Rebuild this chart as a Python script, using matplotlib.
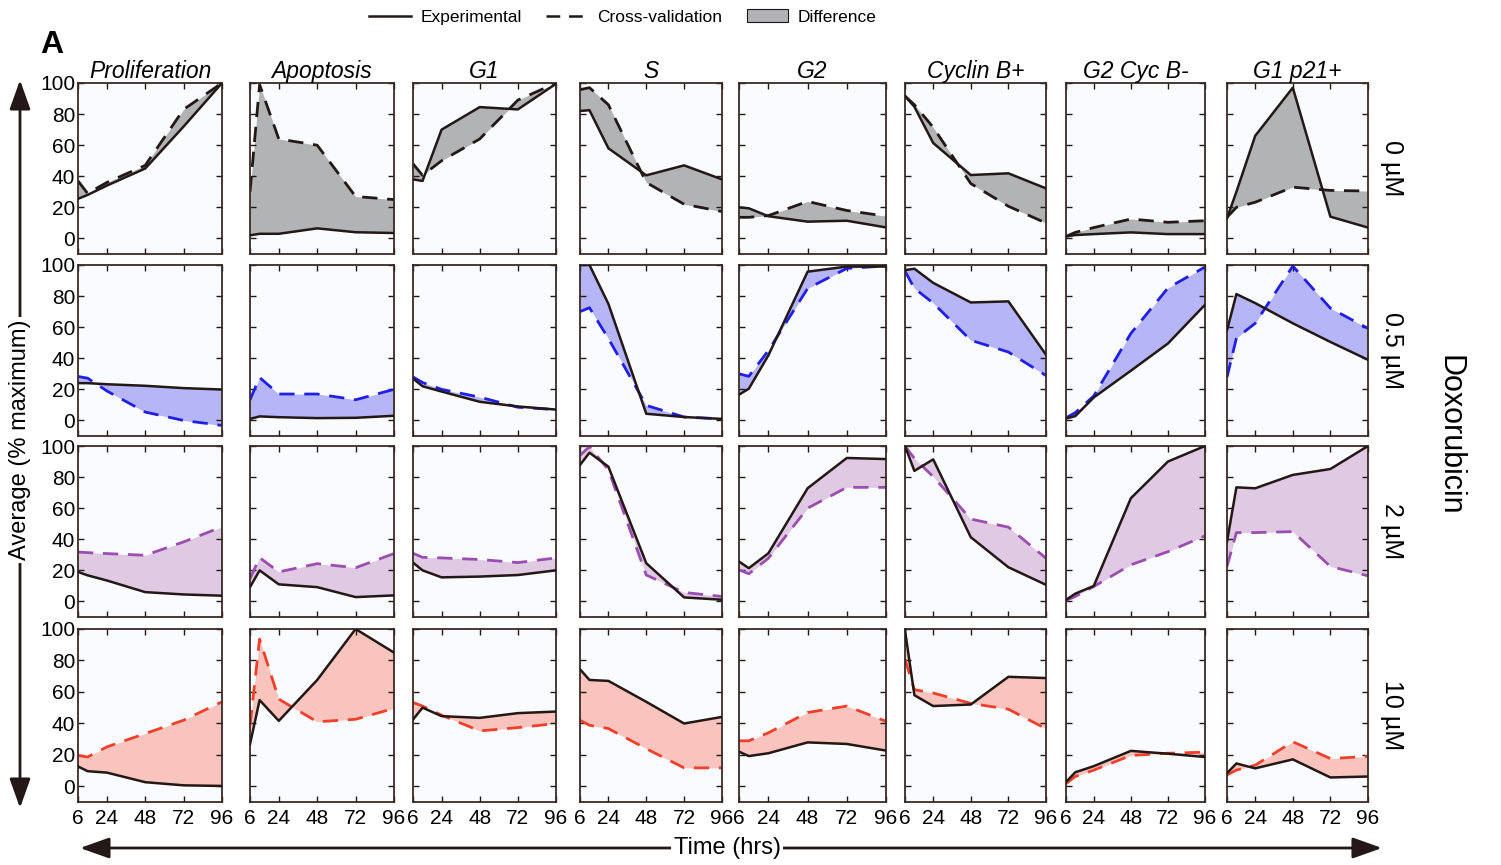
import numpy as np
import matplotlib
matplotlib.use("Agg")
import matplotlib.pyplot as plt
from matplotlib.lines import Line2D
from matplotlib.patches import Patch, FancyArrowPatch

plt.rcParams['font.family'] = ['Liberation Sans', 'DejaVu Sans']

# sampling times (hrs) and readouts
times = [6, 12, 24, 48, 72, 96]
readouts = ["Proliferation", "Apoptosis", "G1", "S", "G2",
            "Cyclin B+", "G2 Cyc B-", "G1 p21+"]
doses = ["0 µM", "0.5 µM", "2 µM", "10 µM"]

# experimental values, one row per readout (% maximum)
exp_0 = [
    [25.5, 28, 34, 45, 72, 100],
    [2, 3, 3, 6.5, 4, 3.5],
    [38, 37, 70, 84.5, 83, 99.5],
    [82, 82.5, 58, 40.6, 47, 38],
    [20, 19.4, 14.3, 10.8, 11.4, 7.1],
    [91.6, 84.7, 61.4, 40.8, 41.9, 32.2],
    [1.3, 2.2, 2.8, 3.9, 2.8, 2.8],
    [13, 30, 66, 97, 14, 7],
]
exp_05 = [
    [24, 24, 23.3, 22.3, 20.8, 19.9],
    [1, 2.6, 2.1, 1.5, 1.7, 3],
    [27, 22, 18.6, 12, 9, 7],
    [100, 100, 75, 4.3, 2.2, 1],
    [16.6, 20.4, 41.9, 95.7, 99, 99],
    [96.7, 97.6, 88.5, 75.9, 76.6, 42.3],
    [1.3, 2.8, 14.8, 32, 49.5, 74.4],
    [58, 81.3, 75.5, 62.5, 50.5, 39],
]
exp_2 = [
    [19, 16.8, 13.5, 6, 4.5, 3.7],
    [9.2, 20, 11, 9.2, 2.8, 3.9],
    [25, 20, 15.5, 16, 17, 20],
    [87.8, 95.7, 86.7, 24.6, 2.6, 1.1],
    [25.7, 21.4, 31, 72.8, 92.3, 91.6],
    [100, 84, 91.4, 41.3, 22, 10.7],
    [1, 5, 10, 66.4, 90, 100],
    [38.5, 73.4, 72.8, 81.4, 85.2, 100],
]
exp_10 = [
    [12.6, 9.6, 8.7, 2.6, 0.6, 0.2],
    [26.7, 54.8, 41.6, 67.6, 100, 85],
    [42.4, 50, 44.6, 43.5, 46.5, 47.5],
    [74.4, 67.6, 67, 53.7, 39.9, 44.1],
    [22, 19.2, 21, 27.9, 26.9, 22.7],
    [99.2, 57.9, 51, 52, 69.6, 68.8],
    [2.7, 8.9, 12.8, 22.5, 20.7, 18.6],
    [8.3, 14.5, 11.4, 17.1, 5.6, 6.2],
]

# cross-validation predictions
cv_0 = [
    [37, 29, 36, 47, 83, 100],
    [30, 99, 64, 60, 27, 25],
    [48, 40.6, 50, 64, 89, 100],
    [95.7, 97, 86, 36, 22, 17.3],
    [13.6, 13.6, 14.7, 23.8, 18, 14.3],
    [91.6, 86, 71.5, 35.3, 20.7, 9.9],
    [1.3, 3.9, 7, 12.5, 10.4, 11.4],
    [13.6, 20, 23.3, 33, 30.9, 30.5],
]
cv_05 = [
    [28.3, 27.2, 19, 5.4, 0, -3.2],
    [13.3, 27.6, 17, 17, 13.3, 20],
    [28, 24.4, 20, 15, 8.5, 7],
    [70, 72.5, 52.7, 9.7, 2.2, 1],
    [30, 28.4, 45, 84.9, 97.8, 99.4],
    [96, 85, 75.5, 51.6, 44, 28.9],
    [1.7, 5, 15.8, 56, 85.2, 98.7],
    [27.8, 53, 62.5, 99.3, 72.2, 59.2],
]
cv_2 = [
    [31.8, 31.4, 30.8, 29.7, 38.3, 48],
    [14.6, 28.2, 19, 24.3, 21.7, 30.8],
    [31, 28.4, 28, 27, 25, 28],
    [94, 99.6, 84.6, 17, 5.8, 3.2],
    [20.3, 17.8, 27.8, 60, 73.4, 73.4],
    [100, 92, 80.3, 53, 47.8, 27.8],
    [0.6, 3.2, 9.6, 23.6, 32, 42.2],
    [22.5, 44.3, 44.3, 44.9, 22.5, 16.5],
]
cv_10 = [
    [19.6, 18.6, 25, 33.5, 42, 53.7],
    [38.8, 93.6, 55.4, 41, 42.6, 49.5],
    [53.3, 51, 45.2, 35.2, 37.3, 39.9],
    [42, 38.8, 36.7, 23.9, 11.7, 11.7],
    [28.9, 28.9, 34, 46.9, 51, 41.3],
    [80.6, 61.4, 59.3, 52.7, 49, 36.6],
    [1.7, 6.2, 10.3, 19.6, 21, 21.7],
    [7.2, 10.3, 13.4, 28.3, 17.6, 19],
]

experimental = [exp_0, exp_05, exp_2, exp_10]
crossval = [cv_0, cv_05, cv_2, cv_10]

dark = "#231815"
dash_colors = [dark, "#1f1fe6", "#9b4db0", "#f0402a"]
fill_colors = ["#b2b3b5", "#b5b5f7", "#dfc9e3", "#f8c4bd"]

W, H = 1501, 865
fig = plt.figure(figsize=(W / 100, H / 100), dpi=100)

# panel edges in pixels
col_px = [(78, 222), (250, 394), (413, 556), (580, 722),
          (739, 886), (905, 1046), (1066, 1205), (1227, 1368)]
row_px = [(83, 254), (265, 436), (446, 617), (629, 802)]

for r, (top, bot) in enumerate(row_px):
    for c, (left, right) in enumerate(col_px):
        ax = fig.add_axes([left / W, 1 - bot / H, (right - left) / W, (bot - top) / H])
        ax.set_facecolor("#f9fbfe")
        e = experimental[r][c]
        v = crossval[r][c]
        ax.fill_between(times, e, v, color=fill_colors[r], lw=0, zorder=1)
        ax.plot(times, v, color=dash_colors[r], lw=2, ls=(0, (5.5, 3.5)), zorder=2)
        ax.plot(times, e, color=dark, lw=1.8, zorder=3)
        ax.set_xlim(6, 96)
        ax.set_ylim(-10, 100)
        ax.set_xticks([6, 24, 48, 72, 96])
        ax.set_yticks([0, 20, 40, 60, 80, 100])
        ax.tick_params(direction="in", top=True, right=True, length=4,
                       width=1, color=dark, labelsize=15, pad=2)
        ax.tick_params(axis="x", pad=5)
        if c != 0:
            ax.set_yticklabels([])
        if r != 3:
            ax.set_xticklabels([])
        for s in ax.spines.values():
            s.set_color("#3a2a24")
            s.set_linewidth(1.3)
        if r == 0:
            ax.set_title(readouts[c], fontsize=16.5, style="italic", pad=2)
        if c == 7:
            ax.text(1.17, 0.5, doses[r], transform=ax.transAxes, rotation=270,
                    ha="center", va="center", fontsize=18)

fig.text(0.0266, 0.965, "A", fontsize=23, fontweight="bold", va="top")

# axis arrows with labels
arrow = dict(arrowstyle="<|-|>,head_length=0.9,head_width=0.32", color=dark,
             lw=2, mutation_scale=20, shrinkA=0, shrinkB=0)
fig.add_artist(FancyArrowPatch(
    (20 / W, 1 - 80 / H), (20 / W, 1 - 808 / H), transform=fig.transFigure, **arrow))
fig.text(20 / W, 1 - 440 / H, "Average (% maximum)", rotation=90, ha="center",
         va="center", fontsize=17, bbox=dict(fc="white", ec="none", pad=2))
fig.add_artist(FancyArrowPatch(
    (80 / W, 1 - 848 / H), (1382 / W, 1 - 848 / H), transform=fig.transFigure, **arrow))
fig.text(727 / W, 1 - 848 / H, "Time (hrs)", ha="center", va="center",
         fontsize=17, bbox=dict(fc="white", ec="none", pad=2))

fig.text(1450 / W, 1 - 435 / H, "Doxorubicin", rotation=270, ha="center",
         va="center", fontsize=22)

handles = [Line2D([], [], color=dark, lw=1.8),
           Line2D([], [], color=dark, lw=1.8, ls=(0, (5.5, 3.5))),
           Patch(facecolor="#b2b3b5", edgecolor=dark, lw=0.8)]
fig.legend(handles, ["Experimental", "Cross-validation", "Difference"],
           loc="center", bbox_to_anchor=(623 / W, 1 - 17 / H), ncol=3,
           frameon=False, fontsize=12.5, handlelength=2.4, columnspacing=1.4,
           handletextpad=0.55)

fig.savefig("out.png", dpi=100)
